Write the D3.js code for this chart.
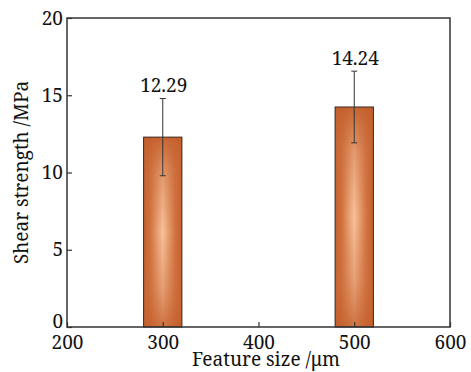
<!DOCTYPE html>
<html><head><meta charset="utf-8">
<script src="https://cdn.jsdelivr.net/npm/d3@7"></script>
<style>body{margin:0;background:#fff}svg{display:block}</style>
</head><body>
<script>
const featureSizes = [300, 500];
const shearStrength = [12.29, 14.24];
const errors = [2.5, 2.32];
const xTicks = [200, 300, 400, 500, 600];
const yTicks = [0, 5, 10, 15, 20];
const barHalfWidth = 20;

const W = 471, H = 372;
const m = {left: 67, right: 21, top: 18, bottom: 45};
const svg = d3.select("body").append("svg").attr("width", W).attr("height", H);
const font = "'Noto Serif', 'DejaVu Serif', serif";
const fs = "19px";

const x = d3.scaleLinear().domain([200, 600]).range([m.left, W - m.right]);
const y = d3.scaleLinear().domain([0, 20]).range([H - m.bottom, m.top]);

const defs = svg.append("defs");
const hg = defs.append("linearGradient").attr("id", "hg").attr("x1", 0).attr("x2", 1).attr("y1", 0).attr("y2", 0);
[[0, "#c45f2c"], [0.18, "#d27340"], [0.5, "#f8c29b"], [0.82, "#d27340"], [1, "#c45f2c"]]
  .forEach(([o, c]) => hg.append("stop").attr("offset", o).attr("stop-color", c));
const vg = defs.append("linearGradient").attr("id", "vg").attr("x1", 0).attr("x2", 0).attr("y1", 0).attr("y2", 1);
[[0, "#c45f2c", 0.95], [0.2, "#c86a38", 0.45], [0.5, "#c86a38", 0], [0.8, "#c86a38", 0.4], [1, "#c45f2c", 0.8]]
  .forEach(([o, c, op]) => vg.append("stop").attr("offset", o).attr("stop-color", c).attr("stop-opacity", op));

const data = featureSizes.map((f, i) => ({f, v: shearStrength[i], e: errors[i]}));

const g = svg.append("g");
g.selectAll("rect.b1").data(data).join("rect")
  .attr("x", d => x(d.f - barHalfWidth)).attr("width", d => x(d.f + barHalfWidth) - x(d.f - barHalfWidth))
  .attr("y", d => y(d.v)).attr("height", d => y(0) - y(d.v))
  .attr("fill", "url(#hg)");
g.selectAll("rect.b2").data(data).join("rect")
  .attr("x", d => x(d.f - barHalfWidth)).attr("width", d => x(d.f + barHalfWidth) - x(d.f - barHalfWidth))
  .attr("y", d => y(d.v)).attr("height", d => y(0) - y(d.v))
  .attr("fill", "url(#vg)").attr("stroke", "#3a2a22").attr("stroke-width", 1);

// error bars
const eb = g.selectAll("g.eb").data(data).join("g");
eb.append("line").attr("x1", d => x(d.f)).attr("x2", d => x(d.f))
  .attr("y1", d => y(d.v + d.e)).attr("y2", d => y(d.v - d.e)).attr("stroke", "#333").attr("stroke-width", 1);
eb.append("line").attr("x1", d => x(d.f) - 3).attr("x2", d => x(d.f) + 3)
  .attr("y1", d => y(d.v + d.e)).attr("y2", d => y(d.v + d.e)).attr("stroke", "#333").attr("stroke-width", 1);
eb.append("line").attr("x1", d => x(d.f) - 3).attr("x2", d => x(d.f) + 3)
  .attr("y1", d => y(d.v - d.e)).attr("y2", d => y(d.v - d.e)).attr("stroke", "#333").attr("stroke-width", 1);

// value labels
g.selectAll("text.val").data(data).join("text")
  .attr("x", d => x(d.f) + 1).attr("y", d => y(d.v + d.e) - 6)
  .attr("text-anchor", "middle").style("font-family", font).style("font-size", fs).attr("fill", "#111")
  .text(d => d.v.toFixed(2));

// axes
const xAxis = svg.append("g").attr("transform", `translate(0,${y(0)})`)
  .call(d3.axisBottom(x).tickValues(xTicks).tickSize(-5).tickPadding(9).tickFormat(d3.format("d")));
const yAxis = svg.append("g").attr("transform", `translate(${x(200)},0)`)
  .call(d3.axisLeft(y).tickValues(yTicks).tickSize(-5).tickPadding(4).tickFormat(d3.format("d")));
[xAxis, yAxis].forEach(a => {
  a.select(".domain").remove();
  a.selectAll("line").attr("stroke", "#333").attr("stroke-width", 1.2);
  a.selectAll("text").style("font-family", font).style("font-size", fs).attr("fill", "#111");
});
xAxis.selectAll("text").attr("dy", "0.71em");
yAxis.selectAll("text").filter(d => d === 0).attr("dy", "0.05em");

// frame
svg.append("rect").attr("x", x(200)).attr("y", y(20)).attr("width", x(600) - x(200)).attr("height", y(0) - y(20))
  .attr("fill", "none").attr("stroke", "#333").attr("stroke-width", 1.5);

// titles
svg.append("text").attr("x", 266).attr("y", 366).attr("text-anchor", "middle")
  .style("font-family", font).style("font-size", fs).attr("fill", "#111").text("Feature size /μm");
svg.append("text").attr("transform", `translate(28,${(y(0) + y(20)) / 2}) rotate(-90)`).attr("text-anchor", "middle")
  .style("font-family", font).style("font-size", fs).attr("fill", "#111").text("Shear strength /MPa");
</script>
</body></html>
